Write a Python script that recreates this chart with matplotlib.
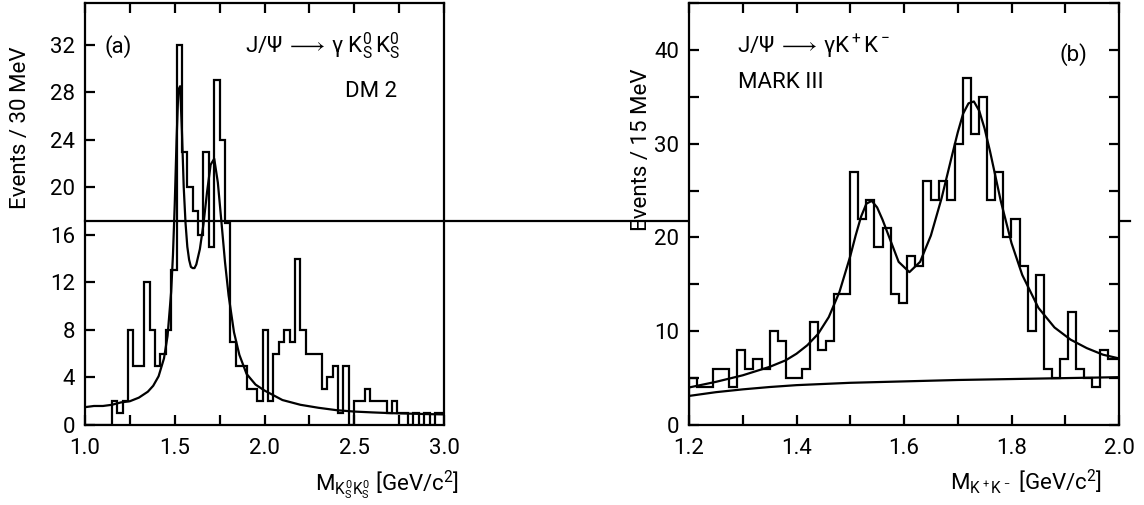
import numpy as np
import matplotlib
matplotlib.use("Agg")
import matplotlib.pyplot as plt
from matplotlib.ticker import MultipleLocator, FormatStrFormatter

plt.rcParams['font.family'] = ['Roboto', 'DejaVu Sans']
plt.rcParams['mathtext.fontset'] = 'custom'
plt.rcParams['mathtext.rm'] = 'Roboto'
plt.rcParams['mathtext.it'] = 'Roboto'
plt.rcParams['mathtext.sf'] = 'Roboto'
plt.rcParams['mathtext.fallback'] = 'stixsans'

# (a) DM2, J/psi -> gamma Ks Ks, 30 MeV bins starting at 1.00 GeV
dm2_lo, dm2_width = 1.00, 0.03
dm2_counts = [0, 0, 0, 0, 0, 2, 1, 2, 8, 5, 5, 12, 8, 5, 6, 8, 13, 32, 23, 20,
              18, 16, 23, 15, 29, 24, 17, 7, 5, 5, 3, 3, 2, 8, 2, 6, 7, 8, 7, 14,
              8, 6, 6, 6, 3, 4, 5, 1, 5, 0, 2, 2, 3, 2, 2, 2, 1, 2, 1, 1,
              0, 1, 0, 1, 0, 1, 1]
dm2_fit_m = [1.00, 1.05, 1.10, 1.15, 1.20, 1.25, 1.30, 1.35, 1.38, 1.41, 1.44, 1.46,
             1.48, 1.49, 1.50, 1.51, 1.52, 1.53, 1.54, 1.55, 1.56, 1.57, 1.58, 1.59,
             1.60, 1.61, 1.62, 1.64, 1.66, 1.68, 1.70, 1.72, 1.74, 1.76, 1.78, 1.80,
             1.83, 1.86, 1.90, 1.95, 2.00, 2.10, 2.20, 2.30, 2.40, 2.50, 2.60, 2.70,
             2.80, 2.90, 3.00]
dm2_fit_n = [1.5, 1.6, 1.6, 1.7, 1.9, 2.0, 2.3, 2.8, 3.3, 4.1, 5.6, 7.5,
             11.2, 14.3, 18.6, 23.9, 28.2, 28.5, 24.7, 20.0, 17.0, 15.0, 13.9, 13.3,
             13.2, 13.2, 13.5, 14.8, 16.9, 19.6, 21.9, 22.4, 20.4, 17.1, 13.7, 10.9,
             7.8, 5.9, 4.3, 3.4, 2.9, 2.1, 1.7, 1.45, 1.25, 1.13, 1.06, 1.0,
             0.96, 0.92, 0.89]

# (b) MARK III, J/psi -> gamma K+ K-, 15 MeV bins starting at 1.20 GeV
m3_lo, m3_width = 1.20, 0.015
m3_counts = [5, 4, 4, 6, 6, 4, 8, 6, 7, 6, 10, 9, 5, 5, 6, 11, 8, 9, 14, 14,
             27, 22, 24, 19, 21, 14, 13, 18, 17, 26, 24, 26, 24, 30, 37, 31, 35, 24, 27, 20,
             22, 17, 10, 16, 6, 5, 7, 12, 6, 5, 4, 8, 7, 7]
m3_fit_m = [1.20, 1.25, 1.30, 1.35, 1.38, 1.40, 1.42, 1.44, 1.46, 1.48, 1.50, 1.51,
            1.52, 1.53, 1.54, 1.55, 1.56, 1.57, 1.59, 1.61, 1.63, 1.65, 1.67, 1.69,
            1.70, 1.71, 1.72, 1.73, 1.74, 1.75, 1.76, 1.78, 1.80, 1.82, 1.85, 1.88,
            1.91, 1.94, 1.97, 2.00]
m3_fit_n = [4.0, 4.6, 5.3, 6.2, 6.9, 7.6, 8.5, 9.7, 11.5, 14.2, 18.0, 20.2,
            22.2, 23.6, 23.9, 23.2, 21.9, 20.4, 17.4, 16.3, 17.4, 20.2, 24.2, 28.9,
            31.2, 33.2, 34.3, 34.5, 33.5, 31.6, 29.2, 23.9, 19.4, 16.0, 12.5, 10.4,
            9.1, 8.2, 7.5, 7.1]
m3_bg_m = [1.20, 1.25, 1.30, 1.35, 1.40, 1.50, 1.60, 1.70, 1.80, 1.90, 2.00]
m3_bg_n = [3.1, 3.5, 3.8, 4.05, 4.25, 4.5, 4.65, 4.8, 4.9, 5.0, 5.1]

LW = 1.6
FS = 16


def edges(lo, width, n):
    return lo + width * np.arange(n + 1)


def style_axis(ax):
    for s in ax.spines.values():
        s.set_linewidth(LW)
    ax.tick_params(which='both', direction='in', top=True, width=LW,
                   length=7, labelsize=FS)
    ax.tick_params(axis='x', pad=9)
    ax.tick_params(axis='y', pad=7)


fig = plt.figure(figsize=(11.44, 5.05), dpi=100)

# ---- panel (a)
ax1 = fig.add_axes([85 / 1144, 80 / 505, 359 / 1144, 422 / 505])
ax1.stairs(dm2_counts, edges(dm2_lo, dm2_width, len(dm2_counts)),
           color='black', linewidth=LW, baseline=0)
ax1.plot(dm2_fit_m, dm2_fit_n, color='black', linewidth=LW)
ax1.set_xlim(1.0, 3.0)
ax1.set_ylim(0, 35.5)
ax1.xaxis.set_major_locator(MultipleLocator(0.5))
ax1.xaxis.set_minor_locator(MultipleLocator(0.25))
ax1.yaxis.set_major_locator(MultipleLocator(4))
ax1.xaxis.set_major_formatter(FormatStrFormatter('%.1f'))
style_axis(ax1)

ax1.text(1.11, 31.3, '(a)', fontsize=FS, va='baseline')
ax1.text(1.89, 31.3, r'J/Ψ$\,\longrightarrow\,$γ K$^0_S\,$K$^0_S$',
         fontsize=FS, va='baseline')
ax1.text(2.45, 27.6, 'DM 2', fontsize=FS, va='baseline')

# long horizontal rule running across both panels
ax1.axhline(17.2, 0, 2.911, color='black', linewidth=LW, clip_on=False)

# ---- panel (b)
ax2 = fig.add_axes([689 / 1144, 80 / 505, 430 / 1144, 422 / 505])
ax2.stairs(m3_counts, edges(m3_lo, m3_width, len(m3_counts)),
           color='black', linewidth=LW, baseline=0)
ax2.plot(m3_fit_m, m3_fit_n, color='black', linewidth=LW)
ax2.plot(m3_bg_m, m3_bg_n, color='black', linewidth=LW)
ax2.set_xlim(1.2, 2.0)
ax2.set_ylim(0, 45)
ax2.xaxis.set_major_locator(MultipleLocator(0.2))
ax2.xaxis.set_minor_locator(MultipleLocator(0.1))
ax2.yaxis.set_major_locator(MultipleLocator(10))
ax2.yaxis.set_minor_locator(MultipleLocator(5))
ax2.xaxis.set_major_formatter(FormatStrFormatter('%.1f'))
style_axis(ax2)
ax2.tick_params(which='both', right=True)

ax2.text(1.29, 39.7, r'J/Ψ$\,\longrightarrow\,$γK$^+$K$^-$', fontsize=FS,
         va='baseline')
ax2.text(1.292, 35.9, 'MARK III', fontsize=FS, va='baseline')
ax2.text(1.89, 38.8, '(b)', fontsize=FS, va='baseline')

# axis titles
fig.text(21 / 1144, 1 - 128 / 505, 'Events / 30 MeV', rotation=90,
         ha='center', va='center', fontsize=FS)
fig.text(641 / 1144, 1 - 150 / 505, 'Events / 15 MeV', rotation=90,
         ha='center', va='center', fontsize=FS)
fig.text(315 / 1144, 1 - 490 / 505, 'M$_{K^0_SK^0_S}$ [GeV/c$^2$]',
         ha='left', va='baseline', fontsize=FS)
fig.text(950 / 1144, 1 - 490 / 505, 'M$_{K^+K^-}$ [GeV/c$^2$]',
         ha='left', va='baseline', fontsize=FS)

fig.savefig('out.png', dpi=100)
